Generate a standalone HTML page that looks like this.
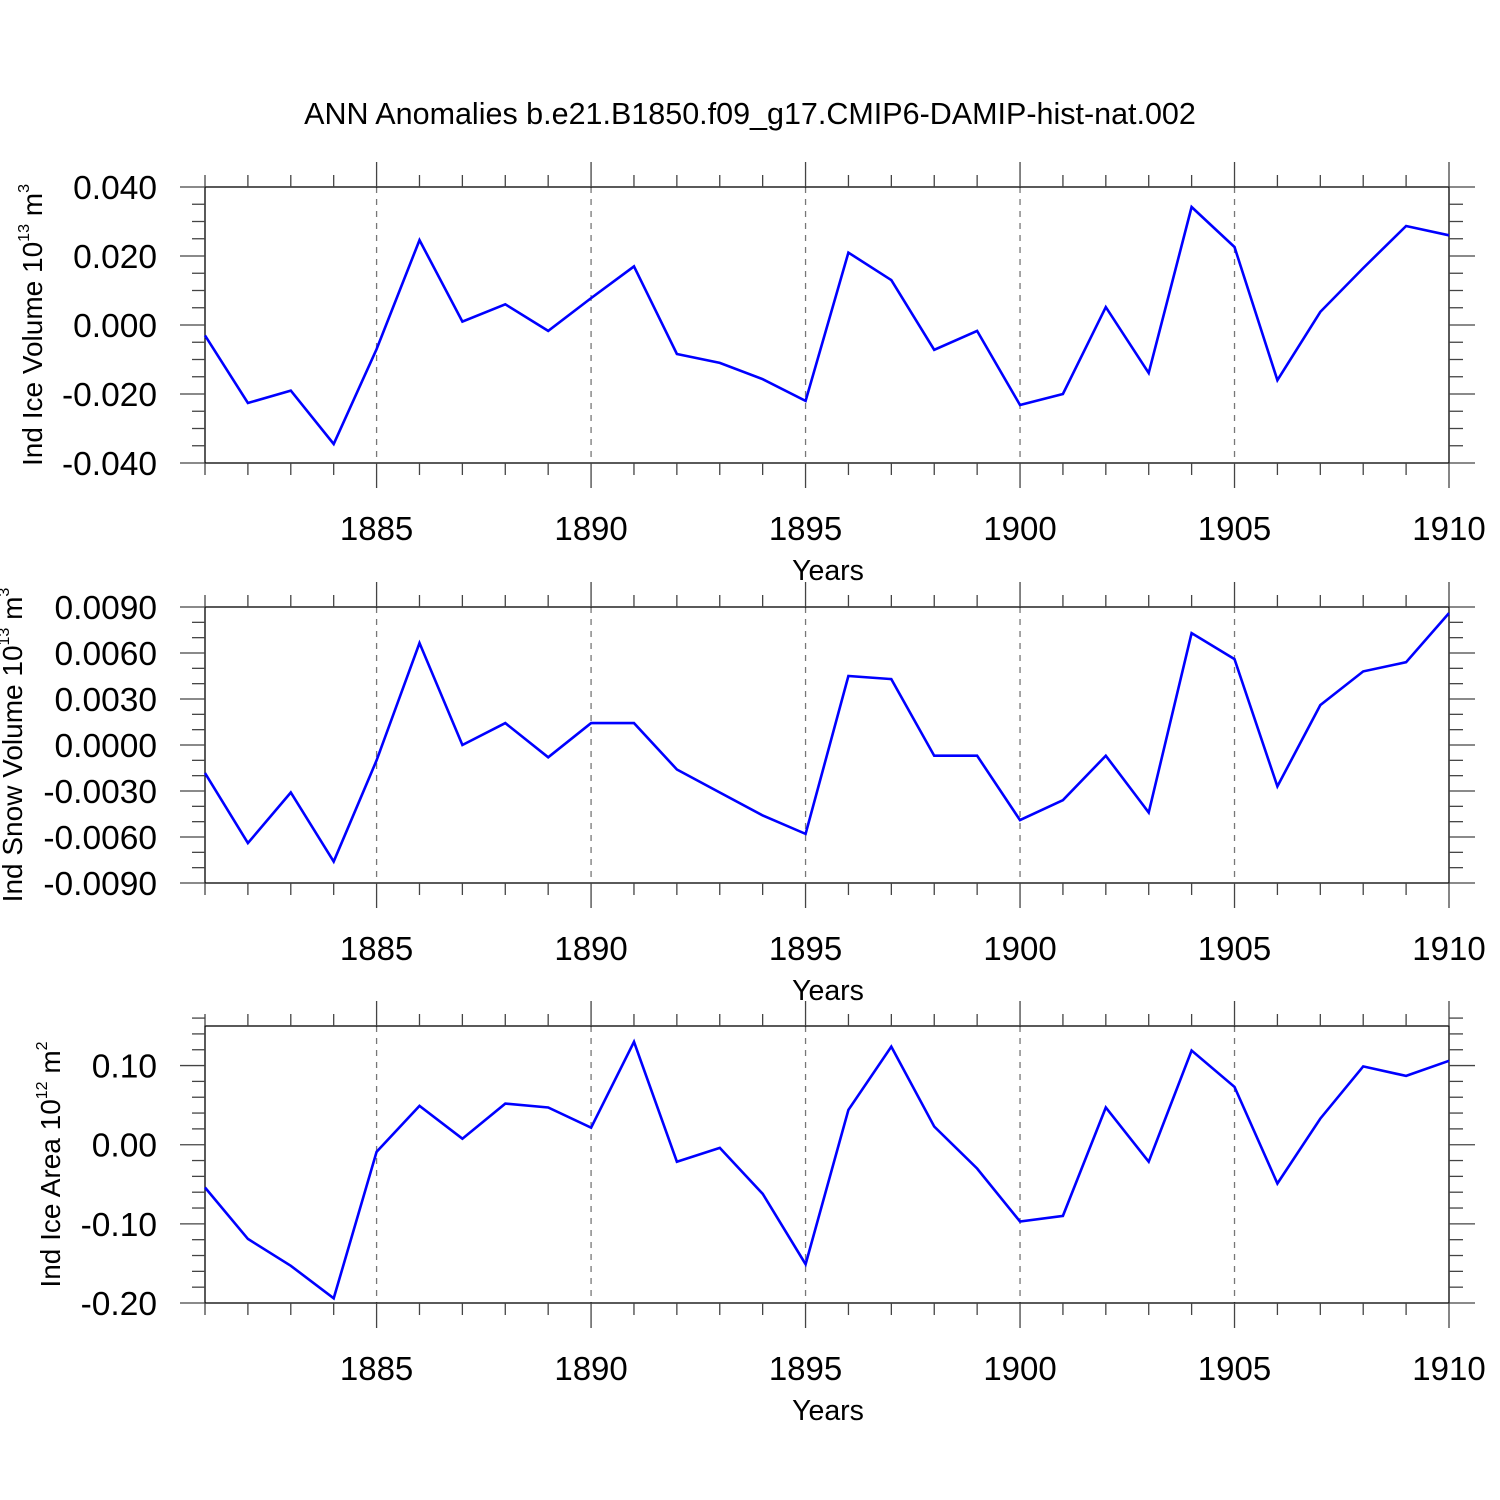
<!DOCTYPE html>
<html><head><meta charset="utf-8"><style>
html,body{margin:0;padding:0;background:#fff}
svg{display:block;font-family:"Liberation Sans",Arial,sans-serif}
</style></head><body>
<svg id="chart" width="1500" height="1500" viewBox="0 0 1500 1500" xmlns="http://www.w3.org/2000/svg">
<rect width="1500" height="1500" fill="#fff"/>
<text x="750" y="124" text-anchor="middle" font-size="30.5">ANN Anomalies b.e21.B1850.f09_g17.CMIP6-DAMIP-hist-nat.002</text>
</svg>
<script>
const years = [];
for (let y = 1881; y <= 1910; y++) years.push(y);
const xTickLabels = ["1885","1890","1895","1900","1905","1910"];
const iceVolume = [-0.003,-0.0226,-0.019,-0.0345,-0.007,0.0246,0.001,0.006,-0.0017,0.0078,0.017,-0.0084,-0.011,-0.0157,-0.022,0.021,0.013,-0.0072,-0.0017,-0.0232,-0.020,0.0052,-0.0139,0.0342,0.0226,-0.016,0.0038,0.0165,0.0287,0.026];
const snowVolume = [-0.00183,-0.0064,-0.0031,-0.0076,-0.001,0.00665,0.0,0.00143,-0.0008,0.00143,0.00143,-0.0016,-0.0031,-0.0046,-0.0058,0.0045,0.0043,-0.0007,-0.0007,-0.0049,-0.0036,-0.0007,-0.0044,0.0073,0.0056,-0.0027,0.0026,0.0048,0.0054,0.0086];
const iceArea = [-0.054,-0.119,-0.153,-0.194,-0.009,0.049,0.0076,0.052,0.047,0.0215,0.130,-0.0215,-0.004,-0.062,-0.151,0.044,0.124,0.023,-0.030,-0.097,-0.090,0.047,-0.0215,0.119,0.073,-0.049,0.033,0.099,0.087,0.106];
const iceVolumeTicks = ["-0.040","-0.020","0.000","0.020","0.040"];
const snowVolumeTicks = ["-0.0090","-0.0060","-0.0030","0.0000","0.0030","0.0060","0.0090"];
const iceAreaTicks = ["-0.20","-0.10","0.00","0.10"];

const NS = "http://www.w3.org/2000/svg";
const svg = document.getElementById("chart");
function mk(tag, attrs, parent) {
  const e = document.createElementNS(NS, tag);
  for (const k in attrs) e.setAttribute(k, attrs[k]);
  (parent || svg).appendChild(e);
  return e;
}
const L = 205, R = 1449;
const xs = y => L + (y - 1881) * (R - L) / (1910 - 1881);

function panel(name, top, bottom, ymin, ymax, majorStep, minorStep, tickLabels, values, ylabelParts, ylabelX) {
  const g = mk("g", {});
  
  
  const ys = v => bottom - (v - ymin) / (ymax - ymin) * (bottom - top);
  for (const lab of xTickLabels) {
    const x = xs(+lab);
    if (+lab === 1910) continue;
    const gl = mk("line", {x1:x, x2:x, y1:top, y2:bottom, stroke:"#777", "stroke-width":1.3, "stroke-dasharray":"6,6"}, g);
    
    
  }
  const fr = mk("rect", {x:L, y:top, width:R-L, height:bottom-top, fill:"none", stroke:"#000", "stroke-width":1.3}, g);
  
  
  for (const y of years) {
    const x = xs(y);
    const major = xTickLabels.includes(String(y));
    const len = major ? 25 : 12;
    mk("line", {x1:x, x2:x, y1:top-len, y2:top, stroke:"#444", "stroke-width":1.3}, g);
    mk("line", {x1:x, x2:x, y1:bottom, y2:bottom+len, stroke:"#444", "stroke-width":1.3}, g);
    if (major) {
      const t = mk("text", {x:x, y:bottom+77, "text-anchor":"middle", "font-size":33}, g);
      t.textContent = String(y);
      
      
    }
  }
  const nMinor = Math.round((ymax - ymin) / minorStep);
  for (let i = 0; i <= nMinor; i++) {
    const v = ymin + i * minorStep;
    const y = ys(v);
    const rel = (v - ymin) / majorStep;
    const major = Math.abs(rel - Math.round(rel)) < 1e-6;
    const len = major ? 25 : 13;
    mk("line", {x1:L-len, x2:L, y1:y, y2:y, stroke:"#444", "stroke-width":1.3}, g);
    mk("line", {x1:R, x2:R+len+1, y1:y, y2:y, stroke:"#444", "stroke-width":1.3}, g);
  }
  tickLabels.forEach(lab => {
    const y = ys(parseFloat(lab));
    const t = mk("text", {x:157, y:y+12, "text-anchor":"end", "font-size":33.5}, g);
    t.textContent = lab;
    
    
  });
  const pts = values.map((v, i) => xs(years[i]).toFixed(1) + "," + ys(v).toFixed(1)).join(" ");
  const pl = mk("polyline", {points:pts, fill:"none", stroke:"#0000ff", "stroke-width":2.6, "stroke-linejoin":"miter"}, g);
  
  
  const xt = mk("text", {x:828, y:bottom+117, "text-anchor":"middle", "font-size":28.5}, g);
  xt.textContent = "Years";
  
  
  const cy = (top + bottom) / 2;
  const yt = mk("text", {x:0, y:0, "text-anchor":"middle", "font-size":28, transform:`translate(${ylabelX},${cy}) rotate(-90)`}, g);
  
  
  const t1 = mk("tspan", {}, yt); t1.textContent = ylabelParts[0];
  const t2 = mk("tspan", {dy:-13, "font-size":16}, yt); t2.textContent = ylabelParts[1];
  const t3 = mk("tspan", {dy:13}, yt); t3.textContent = ylabelParts[2];
  const t4 = mk("tspan", {dy:-13, "font-size":16}, yt); t4.textContent = ylabelParts[3];
}

panel("ice-volume", 187, 463, -0.04, 0.04, 0.02, 0.005, iceVolumeTicks, iceVolume, ["Ind Ice Volume 10","13"," m","3"], 42);
panel("snow-volume", 607, 883, -0.009, 0.009, 0.003, 0.001, snowVolumeTicks, snowVolume, ["Ind Snow Volume 10","13"," m","3"], 22);
panel("ice-area", 1026, 1303, -0.2, 0.15, 0.1, 0.02, iceAreaTicks, iceArea, ["Ind Ice Area 10","12"," m","2"], 60);
</script>
</body></html>
